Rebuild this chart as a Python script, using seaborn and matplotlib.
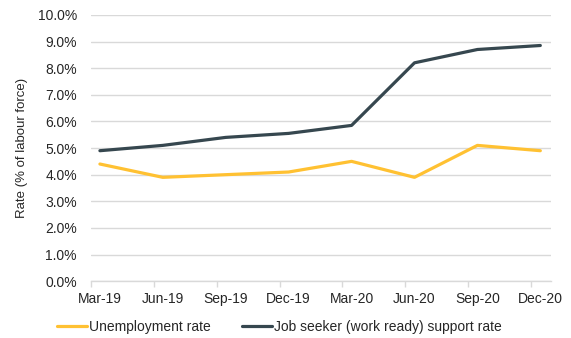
import matplotlib
matplotlib.use("Agg")
import matplotlib.pyplot as plt
import matplotlib.ticker as mticker
import matplotlib.transforms as mtransforms
import seaborn as sns
import pandas as pd

quarters = ["Mar-19", "Jun-19", "Sep-19", "Dec-19", "Mar-20", "Jun-20", "Sep-20", "Dec-20"]
unemployment = [4.4, 3.9, 4.0, 4.1, 4.5, 3.9, 5.1, 4.9]
job_seeker = [4.9, 5.1, 5.4, 5.55, 5.85, 8.2, 8.7, 8.85]

series_names = ["Unemployment rate", "Job seeker (work ready) support rate"]
palette = ["#FFC132", "#36474F"]

pos = list(range(len(quarters)))
df = pd.concat([
    pd.DataFrame({"pos": pos, "rate": unemployment, "series": series_names[0]}),
    pd.DataFrame({"pos": pos, "rate": job_seeker, "series": series_names[1]}),
])

sns.set_theme(style="white")
plt.rcParams["font.family"] = ["Liberation Sans", "DejaVu Sans"]

fig = plt.figure(figsize=(5.71, 3.38), dpi=100)
ax = fig.add_axes([0.159, 0.168, 0.806, 0.788])

sns.lineplot(data=df, x="pos", y="rate", hue="series", palette=palette,
             linewidth=2.3, ax=ax, legend=True)

ax.set_ylim(0, 10)
ax.set_yticks([i for i in range(11)])
ax.yaxis.set_major_formatter(mticker.FuncFormatter(lambda v, _: f"{v:.1f}%"))
ax.yaxis.grid(True, color="#D9D9D9", linewidth=1.0)
ax.set_axisbelow(True)

# Quarter labels sit at the data points; tick marks sit at the start of each quarter month
ax.set_xlim(-0.145, len(quarters) - 1 + 0.17)
ax.set_xticks(pos)
ax.set_xticklabels(quarters)
ax.set_xticks([p - 0.145 for p in pos], minor=True)
ax.tick_params(axis="x", which="major", length=0, pad=8, labelsize=10, colors="#262626")
ax.tick_params(axis="x", which="minor", length=4, width=1, color="#D9D9D9", direction="out", bottom=True)
ax.tick_params(axis="y", length=0, pad=10, labelsize=10, colors="#262626")

for side in ["left", "right", "top"]:
    ax.spines[side].set_visible(False)
ax.spines["bottom"].set_color("#D9D9D9")
ax.spines["bottom"].set_linewidth(1.0)

ax.set_xlabel("")
ax.set_ylabel("Rate (% of labour force)", fontsize=9.5, color="#262626")
label_tf = mtransforms.blended_transform_factory(fig.transFigure, ax.transAxes)
ax.yaxis.set_label_coords(22 / 571, 0.5, transform=label_tf)
ax.yaxis.label.set_verticalalignment("center")

handles, labels = ax.get_legend_handles_labels()
ax.get_legend().remove()
fig.legend(handles, labels, loc="center left", bbox_to_anchor=(57 / 571, 1 - 327 / 338), ncol=2,
           frameon=False, fontsize=10, handlelength=2.15, handletextpad=0.15,
           columnspacing=2.25, borderaxespad=0, borderpad=0, labelcolor="#262626")

fig.savefig("out.png", dpi=100)
